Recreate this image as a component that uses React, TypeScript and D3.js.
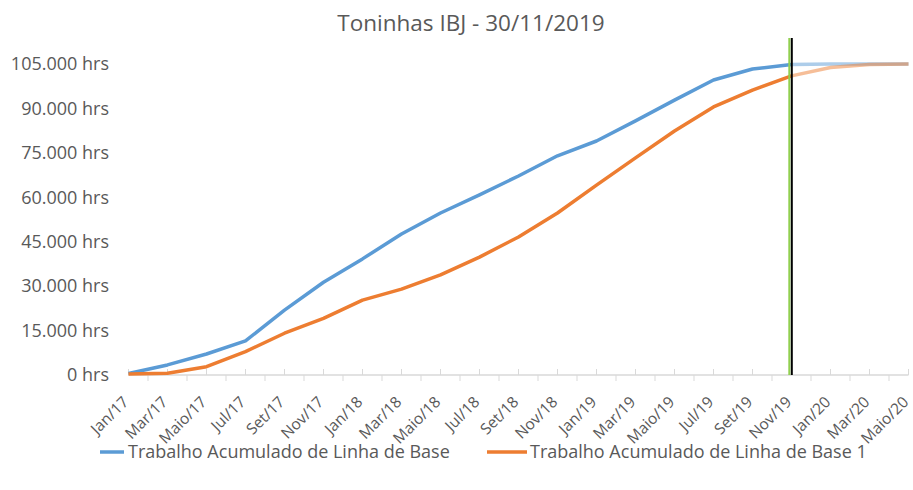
import React from "react";
import * as d3 from "d3";

const title = "Toninhas IBJ - 30/11/2019";
const labels = ["Jan/17","Mar/17","Maio/17","Jul/17","Set/17","Nov/17","Jan/18","Mar/18","Maio/18","Jul/18","Set/18","Nov/18","Jan/19","Mar/19","Maio/19","Jul/19","Set/19","Nov/19","Jan/20","Mar/20","Maio/20"];
const baseline = [500, 3400, 7100, 11500, 21900, 31300, 39200, 47600, 54700, 60800, 67200, 74000, 79000, 85800, 92800, 99600, 103300, 104800, 105000, 105000, 105000];
const baseline1 = [300, 600, 2800, 7900, 14100, 19100, 25300, 29000, 33800, 39800, 46600, 54700, 64100, 73300, 82400, 90500, 96200, 101000, 103800, 104800, 105000];
const yTicks = [0, 15000, 30000, 45000, 60000, 75000, 90000, 105000];
const seriesNames = ["Trabalho Acumulado de Linha de Base", "Trabalho Acumulado de Linha de Base 1"];
const statusIndex = 17; // Nov/19 (label index)
const totalMonths = 40;

const FONT = "'Open Sans', sans-serif";
const TEXT = "#595959";
const BLUE = "#5B9BD5";
const ORANGE = "#ED7D31";

export default function App() {
  const W = 913, H = 490;
  const x = d3.scaleLinear().domain([0, totalMonths]).range([128.5, 908.5]);
  const y = d3.scaleLinear().domain([0, 105000]).range([375, 64]);
  const line = d3.line<[number, number]>().x(d => x(d[0])).y(d => y(d[1]));

  const pts = (arr: number[]) => arr.map((v, i) => [i * 2, v] as [number, number]);
  const series = [
    { data: pts(baseline), color: BLUE },
    { data: pts(baseline1), color: ORANGE },
  ];
  const monthTicks = d3.range(0, totalMonths + 1);
  const sx = x(statusIndex * 2);

  return (
    <svg width={W} height={H} style={{ position: "fixed", left: 0, top: 0, background: "#fff" }}>
      <rect width={W} height={H} fill="#fff" />
      <text x={471} y={31} textAnchor="middle" fontFamily={FONT} fontSize={22.5} fill={TEXT}>{title}</text>

      {yTicks.map(t => (
        <text key={t} x={109} y={y(t)} dy="0.35em" textAnchor="end" fontFamily={FONT} fontSize={18} fill={TEXT}>
          {d3.format(",")(t).replace(/,/g, ".")} hrs
        </text>
      ))}

      <line x1={x(0)} x2={x(totalMonths)} y1={y(0)} y2={y(0)} stroke="#d9d9d9" strokeWidth={1.5} />
      {monthTicks.map(m => (
        m % 2 === 0
          ? <line key={m} x1={x(m)} x2={x(m)} y1={y(0) - 6} y2={y(0)} stroke="#d9d9d9" strokeWidth={1} />
          : <line key={m} x1={x(m)} x2={x(m)} y1={y(0)} y2={y(0) + 6} stroke="#d9d9d9" strokeWidth={1} />
      ))}
      {labels.map((l, i) => (
        <text key={l} transform={`translate(${x(i * 2) - 6.5},${395.5}) rotate(-45)`} textAnchor="end" dy="0.68em"
          fontFamily={FONT} fontSize={15.5} fill={TEXT}>{l}</text>
      ))}

      {series.map((s, k) => (
        <g key={k}>
          <path d={line(s.data.slice(statusIndex)) || ""} fill="none" stroke={s.color} strokeOpacity={0.5} strokeWidth={3.5} />
          <path d={line(s.data.slice(0, statusIndex + 1)) || ""} fill="none" stroke={s.color} strokeWidth={3.5} strokeLinejoin="round" />
        </g>
      ))}

      <line x1={sx - 2.2} x2={sx - 2.2} y1={38} y2={y(0)} stroke="#92D050" strokeWidth={2} />
      <line x1={sx + 0.3} x2={sx + 0.3} y1={38} y2={y(0)} stroke="#000" strokeWidth={2} />

      <line x1={100} x2={124} y1={452} y2={452} stroke={BLUE} strokeWidth={3.5} />
      <text x={128} y={452} dy="0.35em" fontFamily={FONT} fontSize={18} fill={TEXT}>{seriesNames[0]}</text>
      <line x1={487} x2={527} y1={452} y2={452} stroke={ORANGE} strokeWidth={3.5} />
      <text x={530} y={452} dy="0.35em" fontFamily={FONT} fontSize={18} fill={TEXT}>{seriesNames[1]}</text>
    </svg>
  );
}
